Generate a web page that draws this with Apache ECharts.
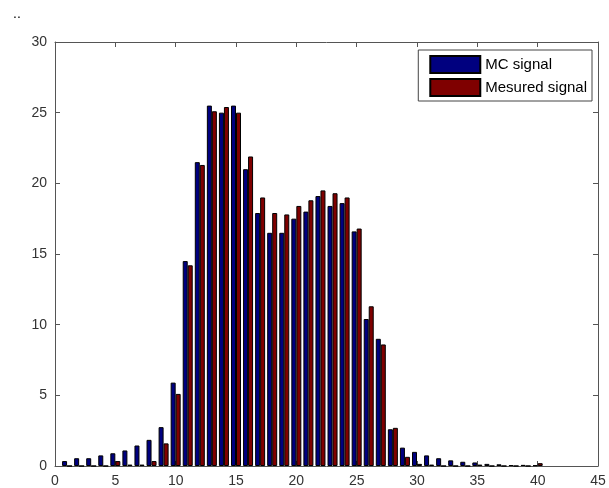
<!DOCTYPE html>
<html>
<head>
<meta charset="utf-8">
<script src="https://cdn.jsdelivr.net/npm/echarts@6/dist/echarts.min.js"></script>
<style>
html,body{margin:0;padding:0;background:#fff;}
#main{width:609px;height:488px;}
</style>
</head>
<body>
<div id="main"></div>
<script>
// bin centres
var bins = [1,2,3,4,5,6,7,8,9,10,11,12,13,14,15,16,17,18,19,20,
            21,22,23,24,25,26,27,28,29,30,31,32,33,34,35,36,37,38,39,40]

// MC signal
var mc = [0.35,0.55,0.55,0.75,0.9,1.1,1.45,1.85,2.75,5.9,14.5,21.5,25.5,25.0,25.5,21.0,17.9,16.5,16.5,17.5,
          18.0,19.1,18.4,18.6,16.6,10.4,9.0,2.6,1.3,1.0,0.75,0.55,0.4,0.3,0.25,0.15,0.12,0.06,0.08,0.05]

// Mesured signal
var mes = [0.0,0.0,0.0,0.0,0.35,0.1,0.1,0.35,1.6,5.1,14.2,21.3,25.1,25.4,25.0,21.9,19.0,17.9,17.8,18.4,
           18.8,19.5,19.3,19.0,16.8,11.3,8.6,2.7,0.65,0.15,0.1,0.0,0.0,0.0,0.1,0.0,0.0,0.0,0.0,0.2]

var xTicks = [0,5,10,15,20,25,30,35,40,45]
var yTicks = [0,5,10,15,20,25,30]

function pares(vals){
	var out=[]
	for(var i=0;i<bins.length;i++){
		out.push([bins[i],vals[i]])
	}
	return out
}

var myChart = echarts.init(document.getElementById('main'))

var lab = {color:'#333',fontSize:14,fontFamily:'Liberation Sans, Arial'}
var linea = {show:true,onZero:false,lineStyle:{color:'#555',width:1}}
var tic = {show:true,inside:true,length:5,lineStyle:{color:'#555'}}

var option = {
	backgroundColor:'#fff',
	animation:false,
	title:{text:'..',left:8,top:2,textStyle:{fontSize:14,color:'#000',fontWeight:'normal'}},
	legend:{
		data:['MC signal','Mesured signal'],
		orient:'vertical',
		right:17,
		top:50,
		icon:'rect',
		itemWidth:50,
		itemHeight:17,
		itemGap:4,
		padding:[5,5,4,11],
		backgroundColor:'#fff',
		borderColor:'#444',
		borderWidth:1,
		borderRadius:0,
		textStyle:{color:'#000',fontSize:15,fontFamily:'Liberation Sans, Arial'}
	},
	grid:{left:55,right:11,top:42,bottom:21},
	xAxis:[{
		type:'value',min:xTicks[0],max:xTicks[xTicks.length-1],interval:5,
		axisLine:linea,axisTick:tic,axisLabel:lab,
		splitLine:{show:false}
	},{
		type:'value',position:'top',min:0,max:45,interval:5,
		axisLine:linea,axisTick:tic,axisLabel:{show:false},
		splitLine:{show:false}
	}],
	yAxis:[{
		type:'value',min:yTicks[0],max:yTicks[yTicks.length-1],interval:5,
		axisLine:linea,axisTick:tic,axisLabel:lab,
		splitLine:{show:false}
	},{
		type:'value',position:'right',min:0,max:30,interval:5,
		axisLine:linea,axisTick:tic,axisLabel:{show:false},
		splitLine:{show:false}
	}],
	series:[{
		name:'MC signal',type:'bar',
		data:pares(mc),
		barWidth:5,barGap:'0%',
		itemStyle:{color:'#00007f',borderColor:'#000',borderWidth:1}
	},{
		name:'Mesured signal',type:'bar',
		data:pares(mes),
		barWidth:5,barGap:'0%',
		itemStyle:{color:'#7f0000',borderColor:'#000',borderWidth:1}
	}]
}

myChart.setOption(option)
</script>
</body>
</html>
